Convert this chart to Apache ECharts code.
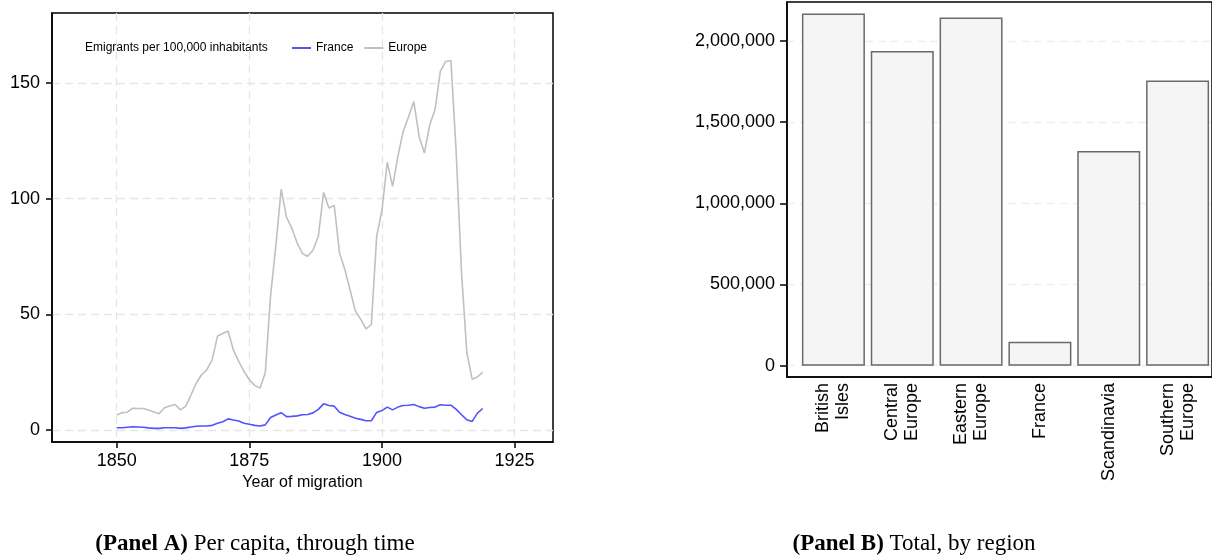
<!DOCTYPE html>
<html><head><meta charset="utf-8">
<script src="https://cdn.jsdelivr.net/npm/echarts@6/dist/echarts.min.js"></script>
<style>html,body{margin:0;padding:0;background:#fff}#c{width:1212px;height:556px}</style>
</head><body><div id="c"></div>
<script>
const years = [1850,1851,1852,1853,1854,1855,1856,1857,1858,1859,
  1860,1861,1862,1863,1864,1865,1866,1867,1868,1869,
  1870,1871,1872,1873,1874,1875,1876,1877,1878,1879,
  1880,1881,1882,1883,1884,1885,1886,1887,1888,1889,
  1890,1891,1892,1893,1894,1895,1896,1897,1898,1899,
  1900,1901,1902,1903,1904,1905,1906,1907,1908,1909,
  1910,1911,1912,1913,1914,1915,1916,1917,1918,1919];
const france = [1.0,1.0,1.2,1.4,1.3,1.2,0.9,0.7,0.7,1.0,
  1.0,1.0,0.7,0.9,1.3,1.6,1.7,1.7,2.0,2.9,
  3.6,4.8,4.3,3.9,2.9,2.5,2.0,1.7,2.2,5.4,
  6.5,7.5,5.8,5.9,6.1,6.6,6.7,7.4,8.9,11.3,
  10.6,10.3,7.7,6.7,5.9,5.1,4.6,4.0,4.0,7.6,
  8.4,9.9,8.7,9.9,10.6,10.7,11.0,10.1,9.4,9.7,
  9.9,10.9,10.7,10.7,8.9,6.6,4.4,3.7,7.3,9.3];
const europe = [6.5,7.5,7.7,9.4,9.3,9.3,8.6,7.8,7.0,9.6,
  10.4,11.0,8.7,10.2,15.2,20.3,23.9,26.1,30.4,40.6,
  41.7,42.8,34.5,29.7,25.3,21.7,19.3,18.1,24.6,58.0,
  79.7,104.1,92.0,87.3,80.9,76.3,75.1,77.7,83.7,102.7,
  96.0,97.1,76.5,69.4,60.4,51.4,47.8,43.7,45.6,83.7,
  95.0,115.8,105.3,118.3,129.1,135.3,142.0,126.9,119.7,131.9,
  138.4,155.0,159.3,159.7,119.7,67.9,33.4,21.9,22.9,25.0];
const xTicksA = [1850,1875,1900,1925];
const yTicksA = [0,50,100,150];
const regions = ['British Isles','Central Europe','Eastern Europe','France','Scandinavia','Southern Europe'];
const totals = [2169000,1938000,2144000,148000,1323000,1757000];
const yTicksB = [0,500000,1000000,1500000,2000000];

const FONT = '"Liberation Sans", Arial, Helvetica, sans-serif';
const SERIF = '"Liberation Serif", "Times New Roman", serif';
const chart = echarts.init(document.getElementById('c'), null, {renderer:'canvas', devicePixelRatio:1});
const dashA = {color:'#e6e6e6', width:1.3, type:[8,5]};
const dashB = {color:'#eeeeee', width:1.3, type:[8,5]};
const blackLine = {color:'#000', width:1.5};

const option = {
  animation:false,
  backgroundColor:'#fff',
  textStyle:{fontFamily:FONT},
  grid:[
    {left:52, top:13, width:501, height:429, show:true, borderColor:'#000', borderWidth:1.5, backgroundColor:'transparent'},
    {left:787, top:2, width:438, height:375, show:true, borderColor:'#000', borderWidth:1.5, backgroundColor:'transparent'},
    {left:799, top:2, width:414, height:375}
  ],
  legend:{
    data:['France','Europe'], left:287, top:37, icon:'rect', itemWidth:19, itemHeight:2, itemGap:11,
    selectedMode:false, textStyle:{fontSize:12, color:'#000', fontFamily:FONT}
  },
  xAxis:[
    {gridIndex:0, type:'value', min:1837.8, max:1932.24,
      axisLine:{show:true, onZero:false, lineStyle:blackLine},
      axisTick:{show:true, length:6, customValues:xTicksA, lineStyle:blackLine},
      axisLabel:{customValues:xTicksA, fontSize:18, color:'#000', fontFamily:FONT, margin:10,
        formatter:function(v){return String(v);}},
      splitLine:{show:true, lineStyle:dashA},
      name:'Year of migration', nameLocation:'middle', nameGap:31,
      nameTextStyle:{fontSize:16, color:'#000', fontFamily:FONT}},
    {gridIndex:1, type:'value', min:0, max:1,
      axisLine:{show:true, onZero:false, lineStyle:blackLine},
      axisTick:{show:false}, axisLabel:{show:false}, splitLine:{show:false}},
    {gridIndex:2, type:'category', data:regions,
      axisLine:{show:false}, axisTick:{show:false},
      axisLabel:{rotate:90, interval:0, margin:6, fontSize:18, lineHeight:20, color:'#000', fontFamily:FONT,
        formatter:function(s){return s.replace(' ','\n');}}}
  ],
  yAxis:[
    {gridIndex:0, type:'value', min:-5.19, max:180.26,
      axisLine:{show:true, onZero:false, lineStyle:blackLine},
      axisTick:{show:true, length:6, customValues:yTicksA, lineStyle:blackLine},
      axisLabel:{customValues:yTicksA, fontSize:18, color:'#000', fontFamily:FONT, margin:12},
      splitLine:{show:true, lineStyle:dashA}},
    {gridIndex:1, type:'value', min:-69600, max:2240200,
      axisLine:{show:true, onZero:false, lineStyle:blackLine},
      axisTick:{show:true, length:7, customValues:yTicksB, lineStyle:blackLine},
      axisLabel:{customValues:yTicksB, fontSize:18, color:'#000', fontFamily:FONT, margin:12,
        formatter:function(v){return Number(v).toLocaleString('en-US');}},
      splitLine:{show:true, lineStyle:dashB}},
    {gridIndex:2, type:'value', min:-69600, max:2240200, show:false, splitLine:{show:false}}
  ],
  series:[
    {type:'line', name:'France', xAxisIndex:0, yAxisIndex:0, symbol:'none', showSymbol:false,
      data:years.map(function(y,i){return [y, france[i]];}),
      lineStyle:{color:'#5252ff', width:1.6}, itemStyle:{color:'#5252ff'}},
    {type:'line', name:'Europe', xAxisIndex:0, yAxisIndex:0, symbol:'none', showSymbol:false,
      data:years.map(function(y,i){return [y, europe[i]];}),
      lineStyle:{color:'#c0c0c0', width:1.6}, itemStyle:{color:'#c0c0c0'}},
    {type:'bar', name:'Total', xAxisIndex:2, yAxisIndex:2, data:totals, barWidth:63,
      itemStyle:{color:'#f5f5f5', borderColor:'#6a6a6a', borderWidth:1.5}}
  ],
  graphic:[
    {type:'text', left:85, top:42, style:{text:'Emigrants per 100,000 inhabitants', font:'12px '+FONT, fill:'#000'}},
    {type:'text', x:255, y:544, style:{
      text:'{b|(Panel A)}{r| Per capita, through time}', align:'center', verticalAlign:'middle',
      rich:{b:{font:'bold 23px '+SERIF, fill:'#000'}, r:{font:'23px '+SERIF, fill:'#000'}}}},
    {type:'text', x:914, y:544, style:{
      text:'{b|(Panel B)}{r| Total, by region}', align:'center', verticalAlign:'middle',
      rich:{b:{font:'bold 23px '+SERIF, fill:'#000'}, r:{font:'23px '+SERIF, fill:'#000'}}}}
  ]
};
chart.setOption(option);
</script>
</body></html>
